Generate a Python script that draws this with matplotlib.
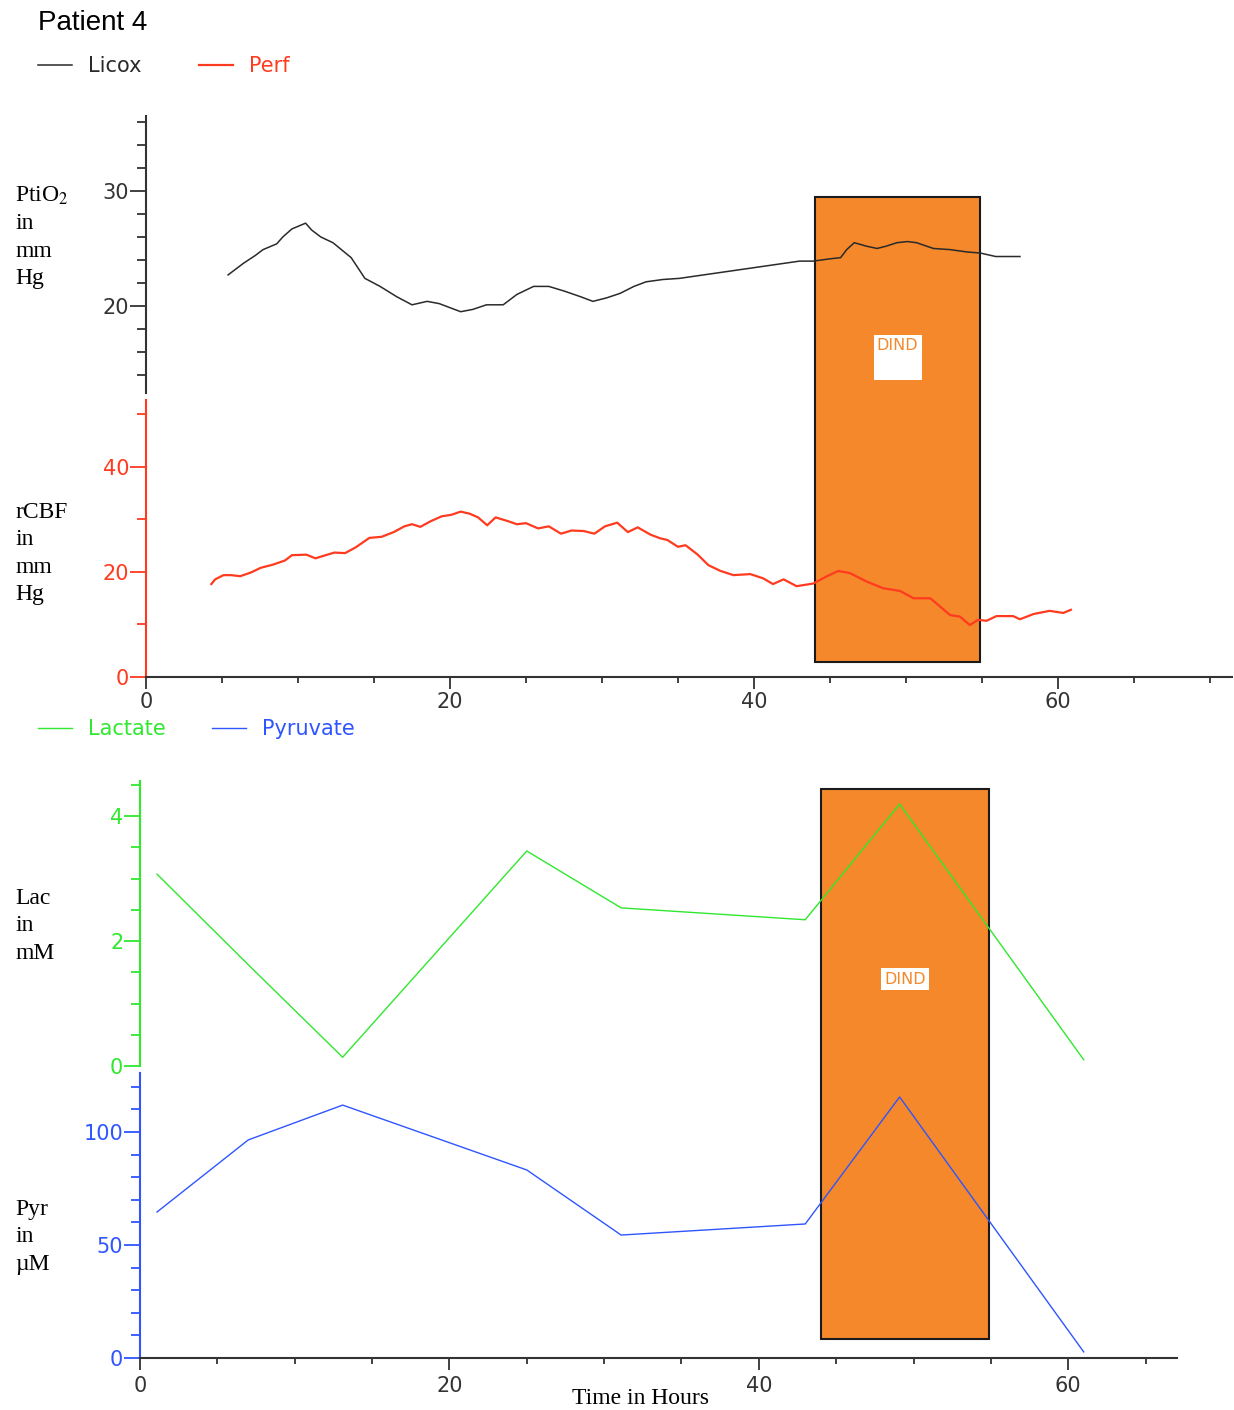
import matplotlib
matplotlib.use('Agg')
import matplotlib.pyplot as plt
from matplotlib.patches import Rectangle
from matplotlib.ticker import MultipleLocator

plt.rcParams['font.family'] = 'DejaVu Sans'
plt.rcParams['mathtext.fontset'] = 'stix'

W, H = 1234, 1410

# Licox brain tissue oxygen, hours vs mm Hg
licox_t = [5.4, 6.4, 7.2, 7.7, 8.6, 9.0, 9.6, 10.5, 10.9, 11.5,
           12.3, 13.5, 14.4, 15.4, 16.5, 17.5, 18.5, 19.3, 20.7, 21.5,
           22.4, 23.5, 24.4, 25.5, 26.5, 27.5, 28.6, 29.4, 30.3, 31.2,
           32.1, 32.9, 34.0, 35.1, 43.0, 43.9, 45.0, 45.7, 46.1, 46.6,
           47.4, 48.1, 48.7, 49.4, 50.1, 50.7, 51.8, 52.9, 54.0, 54.9,
           55.9, 57.5]
licox_v = [22.7, 23.7, 24.4, 24.9, 25.4, 26.0, 26.7, 27.2, 26.6, 26.0,
           25.5, 24.2, 22.4, 21.7, 20.8, 20.1, 20.4, 20.2, 19.5, 19.7,
           20.1, 20.1, 21.0, 21.7, 21.7, 21.3, 20.8, 20.4, 20.7, 21.1,
           21.7, 22.1, 22.3, 22.4, 23.9, 23.9, 24.1, 24.2, 24.9, 25.5,
           25.2, 25.0, 25.2, 25.5, 25.6, 25.5, 25.0, 24.9, 24.7, 24.6,
           24.3, 24.3]

# regional cerebral blood flow (perfusion probe)
perf_t = [4.3, 4.55, 5.1, 5.6, 6.2, 6.9, 7.55, 8.35, 9.15, 9.6,
          10.55, 11.15, 11.7, 12.4, 13.1, 13.8, 14.7, 15.5, 16.3, 17.0,
          17.5, 18.05, 18.75, 19.45, 20.1, 20.7, 21.3, 21.85, 22.45, 23.0,
          23.8, 24.4, 25.0, 25.8, 26.5, 27.3, 28.0, 28.8, 29.5, 30.2,
          31.0, 31.7, 32.35, 33.2, 33.85, 34.3, 35.0, 35.5, 36.3, 37.0,
          37.8, 38.65, 39.75, 40.6, 41.25, 41.95, 42.8, 43.9, 44.8, 45.55,
          46.3, 47.4, 48.5, 49.6, 50.5, 51.6, 52.9, 53.55, 54.2, 54.75,
          55.3, 55.95, 57.05, 57.5, 58.4, 59.45, 60.35, 60.85]
perf_v = [17.7, 18.6, 19.4, 19.4, 19.2, 19.9, 20.8, 21.4, 22.2, 23.2,
          23.3, 22.6, 23.1, 23.7, 23.6, 24.7, 26.5, 26.7, 27.6, 28.7,
          29.1, 28.6, 29.7, 30.6, 30.9, 31.5, 31.1, 30.4, 28.9, 30.4,
          29.7, 29.1, 29.3, 28.3, 28.7, 27.3, 27.9, 27.8, 27.3, 28.7,
          29.4, 27.6, 28.5, 27.1, 26.4, 26.1, 24.8, 25.1, 23.3, 21.3,
          20.2, 19.4, 19.6, 18.8, 17.7, 18.6, 17.3, 17.8, 19.2, 20.2,
          19.8, 18.2, 16.9, 16.4, 15.0, 15.0, 11.8, 11.5, 9.9, 10.9,
          10.7, 11.6, 11.6, 11.0, 12.0, 12.6, 12.2, 12.8]

# microdialysis samples
md_t = [1.1, 7.0, 13.1, 25.0, 31.1, 43.0, 49.1, 61.0]
lactate = [3.07, 1.62, 0.14, 3.44, 2.53, 2.34, 4.19, 0.10]
pyruvate = [64.6, 96.5, 111.9, 83.2, 54.4, 59.3, 115.5, 2.7]

# delayed ischemic neurological deficit window (hours)
dind_start, dind_end = 44.0, 54.9

C_LICOX = '#2a2a2a'
C_PERF = '#ff3b1f'
C_LAC = '#2fe82f'
C_PYR = '#2f55ff'
C_DIND = '#f4882a'
C_AXIS = '#333333'

fig = plt.figure(figsize=(W / 100, H / 100), dpi=100)


def px_axes(left, top, right, bottom):
    ax = fig.add_axes([left / W, 1 - bottom / H, (right - left) / W, (bottom - top) / H])
    ax.set_facecolor('none')
    for s in ['top', 'right', 'bottom']:
        ax.spines[s].set_visible(False)
    return ax


def style_y(ax, color, major, minor):
    ax.spines['left'].set_color(color)
    ax.spines['left'].set_linewidth(1.5)
    ax.yaxis.set_major_locator(MultipleLocator(major))
    ax.yaxis.set_minor_locator(MultipleLocator(minor))
    ax.tick_params(axis='y', which='major', length=11.5, width=1.3, color=color,
                   labelcolor=color, pad=0.5, labelsize=15)
    ax.tick_params(axis='y', which='minor', length=6.5, width=1.3, color=color)


def style_x(ax, show, pad):
    if not show:
        ax.tick_params(axis='x', which='both', bottom=False, labelbottom=False)
        return
    ax.spines['bottom'].set_visible(True)
    ax.spines['bottom'].set_color(C_AXIS)
    ax.spines['bottom'].set_linewidth(1.5)
    ax.xaxis.set_major_locator(MultipleLocator(20))
    ax.xaxis.set_minor_locator(MultipleLocator(5))
    ax.tick_params(axis='x', which='major', length=8.6, width=1.3, color=C_AXIS,
                   labelcolor=C_AXIS, pad=pad, labelsize=15)
    ax.tick_params(axis='x', which='minor', length=4.5, width=1.3, color=C_AXIS)


# upper panel: PtiO2 above rCBF
ax_o2 = px_axes(146, 116, 1232, 393)
ax_cbf = px_axes(146, 400, 1232, 677)
# lower panel: lactate above pyruvate
ax_lac = px_axes(140, 781, 1177, 1066)
ax_pyr = px_axes(140, 1073, 1177, 1358)

ax_o2.set_xlim(0, 71.45)
ax_cbf.set_xlim(0, 71.45)
ax_lac.set_xlim(0, 67.03)
ax_pyr.set_xlim(0, 67.03)
ax_o2.set_ylim(12.43, 36.52)
ax_cbf.set_ylim(0, 52.76)
ax_lac.set_ylim(0, 4.56)
ax_pyr.set_ylim(0, 126.1)

style_y(ax_o2, C_AXIS, 10, 2)
style_y(ax_cbf, C_PERF, 20, 10)
style_y(ax_lac, C_LAC, 2, 0.5)
style_y(ax_pyr, C_PYR, 50, 10)
style_x(ax_o2, False, 0)
style_x(ax_cbf, True, 2.5)
style_x(ax_lac, False, 0)
style_x(ax_pyr, True, 4.5)

l_licox, = ax_o2.plot(licox_t, licox_v, color=C_LICOX, lw=1.1, label='Licox')
l_perf, = ax_cbf.plot(perf_t, perf_v, color=C_PERF, lw=1.6, label='Perf')
l_lac, = ax_lac.plot(md_t, lactate, color=C_LAC, lw=1.0, label='Lactate')
l_pyr, = ax_pyr.plot(md_t, pyruvate, color=C_PYR, lw=1.0, label='Pyruvate')


def dind_box(ax_top, top_val, ax_bot, bot_val):
    # box spans two stacked axes, so build it in figure coordinates
    inv = fig.transFigure.inverted()
    x0, y0 = inv.transform(ax_bot.transData.transform((dind_start, bot_val)))
    x1, y1 = inv.transform(ax_top.transData.transform((dind_end, top_val)))
    fig.add_artist(Rectangle((x0, y0), x1 - x0, y1 - y0, transform=fig.transFigure,
                             facecolor=C_DIND, edgecolor='#1a1a1a', lw=1.5, zorder=-1))


dind_box(ax_o2, 29.5, ax_cbf, 2.9)
dind_box(ax_lac, 4.43, ax_pyr, 8.4)

mid = (dind_start + dind_end) / 2
ax_o2.text(mid, 17.2, 'DIND\n', ha='center', va='top', fontsize=11.5, color=C_DIND,
           linespacing=1.7, zorder=5,
           bbox=dict(boxstyle='square,pad=0.2', fc='white', ec='none'))
ax_lac.text(mid, 1.39, 'DIND', ha='center', va='center', fontsize=11.5, color=C_DIND,
            zorder=5, bbox=dict(boxstyle='square,pad=0.2', fc='white', ec='none'))

fig.text(38 / W, 1 - 30 / H, 'Patient 4', family='Liberation Sans', fontsize=20,
         va='baseline', color='black')

leg_kw = dict(loc='center left', frameon=False, ncol=2, fontsize=15, borderpad=0,
              borderaxespad=0, handlelength=1.63, handletextpad=0.77,
              labelcolor='linecolor')
fig.legend(handles=[l_licox, l_perf], bbox_to_anchor=(38 / W, 1 - 66 / H),
           columnspacing=2.75, **leg_kw)
fig.legend(handles=[l_lac, l_pyr], bbox_to_anchor=(38 / W, 1 - 729 / H),
           columnspacing=2.2, **leg_kw)


def side_label(lines, first_baseline, step=27.4):
    for i, s in enumerate(lines):
        fig.text(15 / W, 1 - (first_baseline + step * i) / H, s,
                 family='Liberation Serif', fontsize=17, va='baseline', color='black')


side_label(['PtiO$_2$', 'in', 'mm', 'Hg'], 202)
side_label(['rCBF', 'in', 'mm', 'Hg'], 518)
side_label(['Lac', 'in', 'mM'], 904)
side_label(['Pyr', 'in', 'µM'], 1215)

fig.text(640 / W, 1 - 1404 / H, 'Time in Hours', family='Liberation Serif',
         fontsize=17, ha='center', va='baseline', color='black')

fig.savefig('out.png', dpi=100)
